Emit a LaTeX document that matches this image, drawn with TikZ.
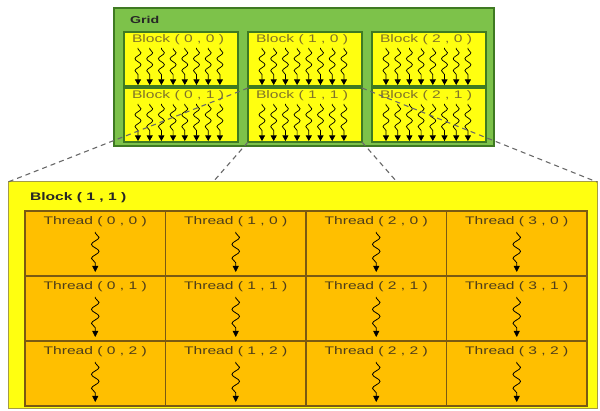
\documentclass[tikz,border=0pt]{standalone}
\usepackage{fontspec}
\setmainfont{Liberation Sans}[FakeStretch=1.42]
\usetikzlibrary{positioning,calc,arrows.meta,decorations.pathmorphing}
\definecolor{gridGreen}{HTML}{7DC24A}
\definecolor{gridDark}{HTML}{3F7A22}
\definecolor{blockYellow}{HTML}{FFFF10}
\definecolor{blockText}{HTML}{807428}
\definecolor{bigEdge}{HTML}{A59C45}
\definecolor{threadOrange}{HTML}{FFBF00}
\definecolor{threadEdge}{HTML}{7A5A12}
\definecolor{threadText}{HTML}{4E3E1A}
\definecolor{zoomGray}{HTML}{686868}

\begin{document}
\begin{tikzpicture}[x=1pt, y=-1pt,
    every node/.style={inner sep=0pt, outer sep=0pt},
    gridbox/.style={draw=gridDark, line width=1.8pt, fill=gridGreen,
                    minimum width=380pt, minimum height=138pt, anchor=north west},
    blockbox/.style={draw=gridDark, line width=1.8pt, fill=blockYellow,
                     minimum width=114pt, minimum height=54pt, anchor=north west},
    bigbox/.style={draw=bigEdge, line width=1pt, fill=blockYellow,
                   minimum width=589pt, minimum height=227pt, anchor=north west},
    cell/.style={draw=threadEdge, line width=1.1pt, fill=threadOrange,
                 minimum width=140.5pt, minimum height=65pt, anchor=north west},
    blabel/.style={font=\fontsize{11}{12}\selectfont, text=blockText, anchor=west},
    tlabel/.style={font=\fontsize{11}{13}\selectfont, text=threadText},
    title/.style={font=\bfseries\fontsize{11}{13}\selectfont, text=black!85, anchor=west},
    warp/.style={decorate, line width=0.7pt,
                 decoration={snake, amplitude=3pt, segment length=12pt,
                             pre length=1pt, post length=5pt},
                 -{Triangle[length=5.5pt, width=6pt]}},
    bigwarp/.style={decorate, line width=0.8pt,
                    decoration={snake, amplitude=3.8pt, segment length=14pt,
                                pre length=1pt, post length=7pt},
                    -{Triangle[length=6pt, width=6pt]}},
    zoomline/.style={draw=zoomGray, dash pattern=on 5pt off 4pt, line width=1.1pt},
  ]
  \useasboundingbox (0,0) rectangle (600,411);

  % Grid of blocks
  \node[gridbox] (grid) at (114,8) {};
  \node[title, font=\bfseries\fontsize{10}{12}\selectfont] (gridlbl) at (130,20) {Grid};
  \foreach \bx/\px in {0/124, 1/248, 2/372}{
    \foreach \by/\py in {0/32, 1/88}{
      \node[blockbox] (b\bx\by) at (\px,\py) {};
      \node[blabel] (bl\bx\by) at (\px+8,\py+8) {Block ( \bx\ , \by\ )};
      \foreach \i in {0,...,7}{
        \coordinate (s\bx\by\i) at (\px+14+11.7*\i,\py+16);
        \coordinate (e\bx\by\i) at (\px+14+11.7*\i,\py+53);
        \draw[warp] (s\bx\by\i) -- (e\bx\by\i);
      }
    }
  }

  % Block (1,1) blown up
  \node[bigbox] (blk) at (8,182) {};
  \node[title] (blklbl) at (30,198) {Block ( 1 , 1 )};
  \foreach \tx in {0,...,3}{
    \foreach \ty in {0,...,2}{
      \node[cell] (t\tx\ty) at (25+140.5*\tx,211+65*\ty) {};
      \node[tlabel, below=6pt of t\tx\ty.north] (tl\tx\ty) {Thread ( \tx\ , \ty\ )};
      \coordinate (ts\tx\ty) at ($(t\tx\ty.north)+(0,21)$);
      \coordinate (te\tx\ty) at ($(t\tx\ty.north)+(0,61)$);
      \draw[bigwarp] (ts\tx\ty) -- (te\tx\ty);
    }
  }

  % Zoom lines
  \coordinate (zl) at (213,182);
  \coordinate (zr) at (397,182);
  \draw[zoomline] (b11.north west) -- (blk.north west);
  \draw[zoomline] (b11.south west) -- (zl);
  \draw[zoomline] (b11.south east) -- (zr);
  \draw[zoomline] (b11.north east) -- (blk.north east);
\end{tikzpicture}
\end{document}
